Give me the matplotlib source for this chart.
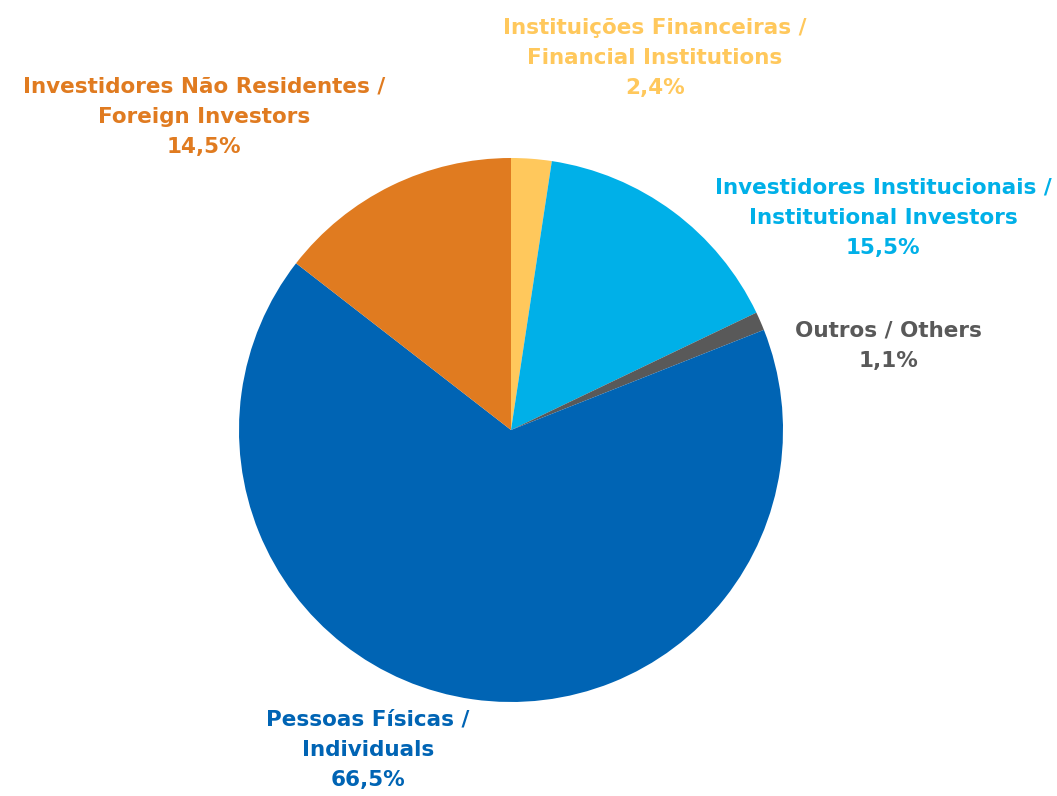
import matplotlib
matplotlib.use("Agg")
import matplotlib.pyplot as plt

labels = ["Instituições Financeiras /\nFinancial Institutions",
          "Investidores Institucionais /\nInstitutional Investors",
          "Outros / Others",
          "Pessoas Físicas /\nIndividuals",
          "Investidores Não Residentes /\nForeign Investors"]
shares = [2.4, 15.5, 1.1, 66.5, 14.5]
colors = ["#FFC85C", "#00B0E8", "#595959", "#0064B4", "#E07B20"]
text_colors = ["#FFC85C", "#00B0E8", "#595959", "#0064B4", "#E07B20"]

# label anchor points in pixel coords (top-left origin)
label_pos = [(655, 58), (883, 218), (888, 346), (368, 750), (204, 117)]

fig = plt.figure(figsize=(10.57, 7.96), dpi=100)
ax = fig.add_axes([0, 0, 1, 1])

# y axis is inverted below, so -90 / counterclock gives top start, clockwise on screen
ax.pie(shares, colors=colors, startangle=-90, counterclock=True,
       center=(511, 430), radius=272, frame=True,
       wedgeprops=dict(linewidth=0))
ax.set_xlim(0, 1057)
ax.set_ylim(796, 0)
ax.set_aspect("equal")
ax.axis("off")

for lab, val, col, (x, y) in zip(labels, shares, text_colors, label_pos):
    txt = lab + "\n" + f"{val:.1f}%".replace(".", ",")
    ax.text(x, y, txt, ha="center", va="center", color=col,
            fontsize=15.5, fontweight="bold", family="DejaVu Sans",
            linespacing=1.65)

fig.savefig("out.png", dpi=100)
